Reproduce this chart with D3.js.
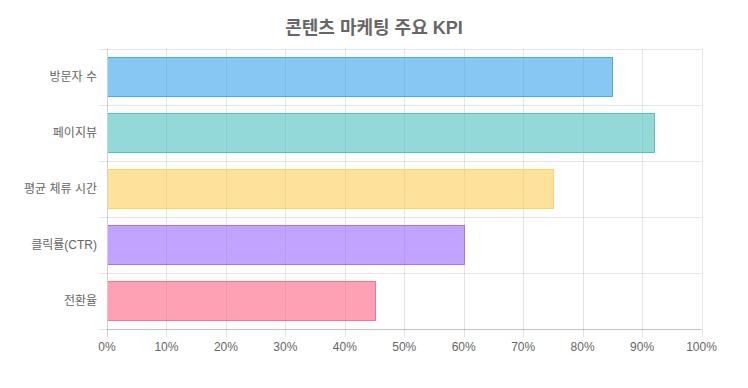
<!DOCTYPE html>
<html>
<head>
<meta charset="utf-8">
<script src="https://cdn.jsdelivr.net/npm/d3@7"></script>
<style>
  body { margin: 0; background: #fff; }
  text { font-family: "Liberation Sans", Arial, "Noto Sans CJK KR", sans-serif; }
</style>
</head>
<body>
<div id="chart"></div>
<script>
const categories = ["방문자 수", "페이지뷰", "평균 체류 시간", "클릭률(CTR)", "전환율"];
const values = [85, 92, 75, 60, 45];
const fills = ["rgba(54,162,235,0.6)", "rgba(75,192,192,0.6)", "rgba(255,206,86,0.6)", "rgba(153,102,255,0.6)", "rgba(255,99,132,0.6)"];
const strokes = ["rgba(54,162,235,0.8)", "rgba(75,192,192,0.9)", "rgba(255,206,86,0.8)", "rgba(153,102,255,0.8)", "rgba(255,99,132,0.8)"];
const xTicks = [0, 10, 20, 30, 40, 50, 60, 70, 80, 90, 100];

const W = 748, H = 388;
const margin = {top: 49, right: 46.5, bottom: 59, left: 107};
const width = W - margin.left - margin.right,
      height = H - margin.top - margin.bottom;

const svg = d3.select("#chart")
  .append("svg")
    .attr("width", W)
    .attr("height", H);

// title
svg.append("text")
  .attr("x", W / 2)
  .attr("y", 34)
  .attr("text-anchor", "middle")
  .style("font-size", "18px")
  .style("font-weight", "bold")
  .style("fill", "#666")
  .text("콘텐츠 마케팅 주요 KPI");

const g = svg.append("g")
  .attr("transform", `translate(${margin.left}, ${margin.top})`);

const x = d3.scaleLinear()
  .domain([0, 100])
  .range([0, width]);

const y = d3.scaleBand()
  .domain(categories)
  .range([0, height]);

const grid = "rgba(0,0,0,0.1)";

// vertical grid lines + ticks
g.append("g")
  .selectAll("line")
  .data(xTicks.slice(1))
  .join("line")
    .attr("x1", d => Math.round(x(d)) + 0.5)
    .attr("x2", d => Math.round(x(d)) + 0.5)
    .attr("y1", 0)
    .attr("y2", height + 8)
    .style("stroke", grid);

// horizontal grid lines (band edges)
const edges = categories.map(c => y(c)).concat([height]);
g.append("g")
  .selectAll("line")
  .data(edges)
  .join("line")
    .attr("x1", -8)
    .attr("x2", width)
    .attr("y1", d => Math.round(d) + 0.5)
    .attr("y2", d => Math.round(d) + 0.5)
    .style("stroke", grid);

// axis borders
g.append("line")
  .attr("x1", 0.5).attr("x2", 0.5)
  .attr("y1", 0).attr("y2", height + 8)
  .style("stroke", "rgba(0,0,0,0.18)");
g.append("line")
  .attr("x1", 0).attr("x2", width)
  .attr("y1", Math.round(height) + 0.5).attr("y2", Math.round(height) + 0.5)
  .style("stroke", "rgba(0,0,0,0.15)");

// bars
const barH = Math.round(y.bandwidth() * 0.72);
const bars = g.append("g")
  .selectAll("g")
  .data(values)
  .join("g")
    .attr("transform", (d, i) => `translate(1, ${Math.round(y(categories[i]) + (y.bandwidth() - barH) / 2)})`);

bars.append("rect")
  .attr("width", d => Math.round(x(d)))
  .attr("height", barH)
  .style("fill", (d, i) => fills[i]);

// border on top, right, bottom (left skipped)
bars.append("path")
  .attr("d", d => {
    const w = Math.round(x(d)) - 0.5, h = barH - 0.5;
    return `M0,0.5H${w}V${h}H0`;
  })
  .style("fill", "none")
  .style("stroke", (d, i) => strokes[i])
  .style("stroke-width", 1);

// x tick labels
g.append("g")
  .selectAll("text")
  .data(xTicks)
  .join("text")
    .attr("x", d => x(d))
    .attr("y", height + 22)
    .attr("text-anchor", "middle")
    .style("font-size", "12px")
    .style("fill", "#666")
    .text(d => d + "%");

// y labels
g.append("g")
  .selectAll("text")
  .data(categories)
  .join("text")
    .attr("x", -10)
    .attr("y", d => y(d) + y.bandwidth() / 2)
    .attr("dy", "0.35em")
    .attr("text-anchor", "end")
    .style("font-size", "12px")
    .style("fill", "#666")
    .text(d => d);
</script>
</body>
</html>
